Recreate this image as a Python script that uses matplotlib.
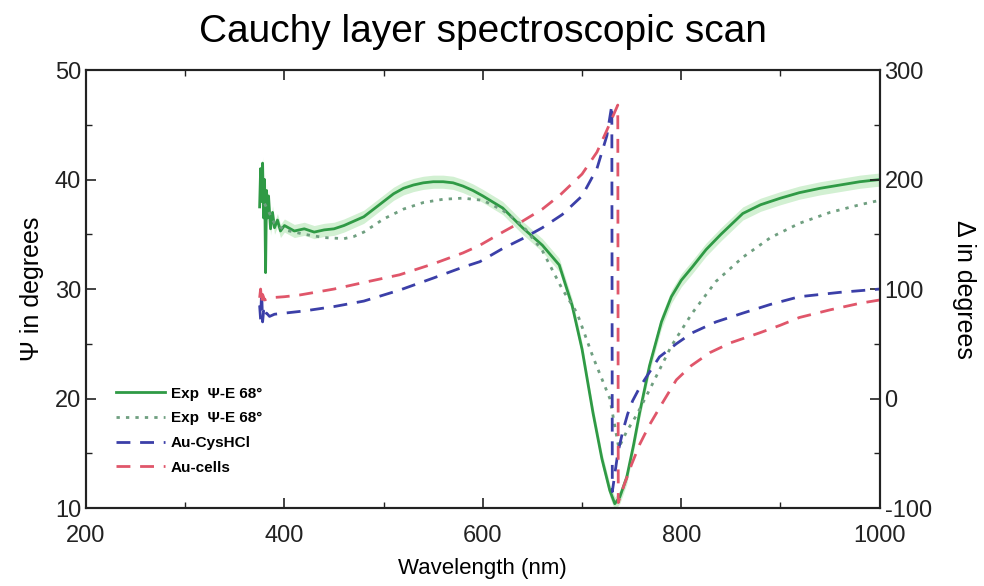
import numpy as np
import matplotlib.pyplot as plt
from matplotlib.ticker import MultipleLocator

plt.rcParams['font.family'] = ['Liberation Sans', 'DejaVu Sans']
plt.rcParams['axes.unicode_minus'] = False

# Psi curves (left axis)
wl_exp1 = [375, 376, 377, 378, 379, 380, 381, 382, 383, 384, 386, 388, 390, 393, 396,
           400, 410, 420, 430, 440, 450, 460, 470, 480, 490, 500, 510, 520, 530, 540,
           550, 560, 570, 580, 590, 600, 620, 640, 660, 677, 690, 700, 711, 720, 728,
           733, 738, 745, 752, 758, 768, 780, 790, 800, 811, 825, 840, 862, 880, 900,
           919, 940, 960, 980, 1000]
psi_exp1 = [37.5, 41.0, 38.0, 41.5, 36.5, 40.0, 31.5, 39.0, 36.5, 38.5, 35.5, 37.0, 35.6, 36.3, 35.3,
            35.8, 35.3, 35.5, 35.2, 35.4, 35.5, 35.8, 36.2, 36.6, 37.3, 38.0, 38.7, 39.2, 39.5, 39.7,
            39.8, 39.8, 39.7, 39.4, 39.0, 38.5, 37.4, 35.6, 34.0, 32.2, 28.5, 24.5, 18.7, 14.5, 11.6,
            10.4, 11.0, 12.8, 15.8, 18.7, 23.0, 27.0, 29.3, 30.8, 32.0, 33.6, 35.0, 36.9, 37.7, 38.3,
            38.8, 39.2, 39.5, 39.8, 40.0]

wl_exp2 = [380, 390, 400, 420, 440, 460, 470, 480, 490, 500, 520, 540, 560, 580, 600,
           620, 640, 660, 680, 695, 711, 728, 737, 745, 755, 768, 790, 811, 835, 862,
           890, 919, 950, 980, 1000]
psi_exp2 = [37.8, 36.0, 35.4, 35.0, 34.7, 34.6, 34.8, 35.2, 35.8, 36.4, 37.3, 37.9, 38.2, 38.3, 38.1,
            37.2, 35.8, 33.5, 30.0, 27.8, 23.8, 20.0, 15.5, 17.0, 18.5, 20.8, 24.8, 27.8, 30.7, 32.9,
            34.7, 36.0, 37.0, 37.7, 38.1]

# Delta curves (right axis)
wl_cys = [375, 376, 377, 378, 379, 380, 382, 385, 390, 400, 420, 450, 480, 516, 550,
          580, 597, 620, 640, 660, 680, 700, 715, 725, 730, 730.5, 736, 741, 746, 751,
          758, 765, 778, 795, 811, 835, 862, 890, 919, 960, 1000]
delta_cys = [85, 72, 98, 70, 80, 74, 78, 75, 77, 78, 80, 84, 89, 99, 110,
             120, 125, 137, 146, 156, 168, 185, 210, 240, 268, -85, -50, -30, -14, -2,
             10, 20, 38, 50, 60, 70, 78, 86, 93, 97, 100]

wl_cells = [375, 376, 377, 378, 380, 385, 400, 415, 450, 480, 516, 550, 580, 597, 620,
            640, 660, 678, 700, 715, 725, 736, 736.5, 742, 750, 758, 768, 781, 795, 810,
            829, 850, 879, 900, 919, 950, 980, 1000]
delta_cells = [92, 100, 88, 95, 90, 92, 93, 94.5, 100, 106, 113, 123, 133, 140, 152,
               162, 173, 186, 205, 225, 245, 268, -95, -80, -60, -42, -24, -4, 17, 30,
               42, 51, 60, 67, 74, 81, 87, 90]

labels = ['Exp  \u03a8-E 68\u00b0', 'Exp  \u03a8-E 68\u00b0', 'Au-CysHCl', 'Au-cells']

fig = plt.figure(figsize=(9.84, 5.86), dpi=100)
ax = fig.add_axes([0.0874, 0.133, 0.8066, 0.7475])
ax2 = ax.twinx()

# light halo around the experimental curve
p1 = np.array(psi_exp1)
ax.fill_between(wl_exp1, p1 - 0.6, p1 + 0.6, color='#d2f0d2', lw=0)
l1, = ax.plot(wl_exp1, psi_exp1, color='#2f9a45', lw=2)
l2, = ax.plot(wl_exp2, psi_exp2, color='#6f9f80', lw=2, ls=(0, (1.2, 2.2)))
l3, = ax2.plot(wl_cys, delta_cys, color='#3b3fa8', lw=2, ls=(0, (5, 3.5)))
l4, = ax2.plot(wl_cells, delta_cells, color='#e0566a', lw=2, ls=(0, (5, 3.5)))

ax.set_xlim(200, 1000)
ax.set_ylim(10, 50)
ax2.set_ylim(-100, 300)
ax.set_xticks([200, 400, 600, 800, 1000])
ax.xaxis.set_minor_locator(MultipleLocator(100))
ax.yaxis.set_major_locator(MultipleLocator(10))
ax.yaxis.set_minor_locator(MultipleLocator(5))
ax2.yaxis.set_major_locator(MultipleLocator(100))
ax2.yaxis.set_minor_locator(MultipleLocator(50))

ax.tick_params(which='both', direction='in', top=True, labelsize=17, colors='#222222')
ax.tick_params(which='major', length=7, width=1.2)
ax.tick_params(which='minor', length=4, width=1)
ax.tick_params(axis='x', pad=12)
ax2.tick_params(which='both', direction='in', labelsize=17, colors='#222222')
ax2.tick_params(which='major', length=7, width=1.2)
ax2.tick_params(which='minor', length=4, width=1)
for a in (ax, ax2):
    for s in a.spines.values():
        s.set_linewidth(1.5)
        s.set_color('#222222')

ax.set_xlabel('Wavelength (nm)', fontsize=16, labelpad=8)
ax.set_ylabel('\u03a8 in degrees', fontsize=18, labelpad=8)
ax2.set_ylabel('\u0394 in degrees', fontsize=18, rotation=270, labelpad=32)
ax.set_title('Cauchy layer spectroscopic scan', fontsize=28, pad=20)

ax2.legend([l1, l2, l3, l4], labels, loc='lower left', bbox_to_anchor=(0.02, 0.045),
           frameon=False, handlelength=3.2, labelspacing=0.7, handletextpad=0.4,
           prop={'size': 11, 'weight': 'bold'})

fig.savefig('out.png', dpi=100)
